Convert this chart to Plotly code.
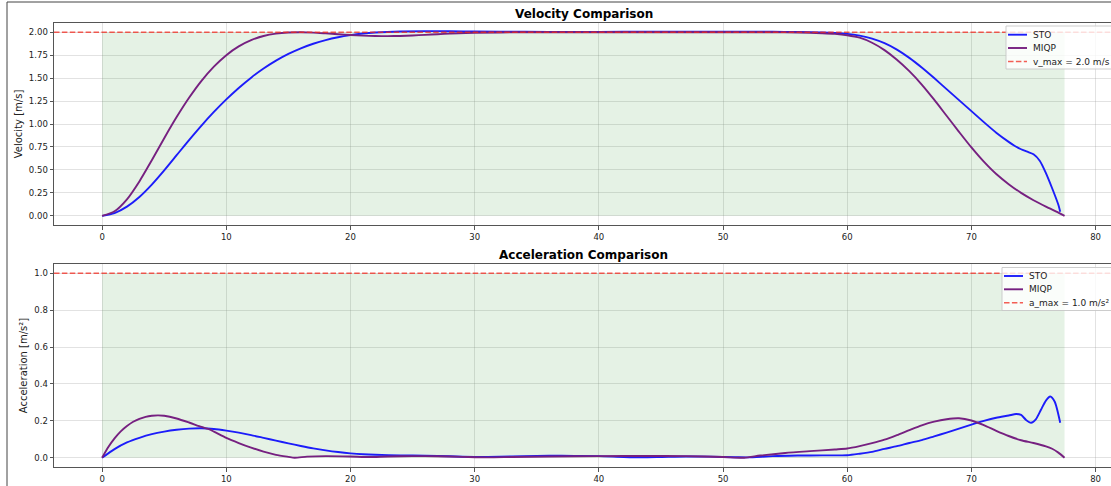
import plotly.graph_objects as go

# ---- velocity profiles -------------------------------------------------
sto_v_t = [0, 1, 2, 3, 4, 5, 6, 7, 8, 9, 10, 11, 12, 13, 14, 15, 16, 17, 18, 19,
           20, 21, 22, 24, 26, 28, 30, 34, 38, 42, 46, 50, 54, 56, 58, 59, 60, 61,
           62, 63, 64, 65, 66, 67, 68, 69, 70, 71, 72, 73, 73.5, 74, 74.5, 75,
           75.5, 76, 76.5, 77, 77.15]
sto_v = [0, 0.03, 0.1, 0.205, 0.34, 0.495, 0.66, 0.825, 0.983, 1.131, 1.268,
         1.393, 1.505, 1.604, 1.69, 1.763, 1.824, 1.874, 1.914, 1.945, 1.968,
         1.985, 1.996, 2.008, 2.012, 2.01, 2.007, 2.004, 2.002, 2.004, 2.006,
         2.006, 2.004, 2.003, 1.998, 1.992, 1.982, 1.962, 1.93, 1.88, 1.81,
         1.72, 1.615, 1.5, 1.38, 1.26, 1.14, 1.02, 0.905, 0.805, 0.76, 0.725,
         0.698, 0.67, 0.6, 0.465, 0.3, 0.12, 0.045]

miqp_v_t = [0, 1, 2, 3, 4, 5, 6, 7, 8, 9, 10, 11, 12, 13, 14, 15, 16, 17, 18,
            19, 20, 21, 22, 23, 24, 25, 26, 27, 28, 30, 34, 38, 42, 46, 50, 54,
            56, 58, 59, 60, 61, 62, 63, 64, 65, 66, 67, 68, 69, 70, 71, 72, 73,
            74, 75, 76, 77, 77.5]
miqp_v = [0, 0.05, 0.18, 0.375, 0.605, 0.845, 1.075, 1.285, 1.47, 1.625, 1.75,
          1.845, 1.913, 1.958, 1.984, 1.996, 1.999, 1.995, 1.987, 1.978, 1.969,
          1.962, 1.958, 1.957, 1.959, 1.964, 1.971, 1.978, 1.984, 1.994, 1.999,
          2.0, 2.0, 2.0, 2.0, 1.999, 1.996, 1.989, 1.982, 1.967, 1.94, 1.885,
          1.805, 1.7, 1.575, 1.43, 1.265, 1.09, 0.915, 0.745, 0.59, 0.455,
          0.345, 0.25, 0.17, 0.1, 0.035, 0]

# ---- acceleration magnitudes -------------------------------------------
sto_a_t = [0, 1, 2, 3, 4, 5, 6, 7, 8, 9, 10, 11, 12, 13, 14, 15, 16, 17, 18,
           19, 20, 21, 22, 24, 26, 28, 30, 32, 34, 36, 38, 40, 42, 43.5, 45, 47,
           49, 51, 52, 54, 56, 58, 60, 61, 62, 63, 64, 65, 66, 67, 68, 69, 70,
           71, 72, 73, 73.6, 74.0, 74.4, 74.8, 75.2, 75.6, 76.0, 76.35, 76.7,
           77.15]
sto_a = [0, 0.047, 0.083, 0.108, 0.128, 0.142, 0.152, 0.158, 0.16, 0.156,
         0.147, 0.136, 0.123, 0.108, 0.093, 0.078, 0.064, 0.051, 0.04, 0.031,
         0.024, 0.019, 0.016, 0.013, 0.011, 0.008, 0.005, 0.006, 0.009, 0.011,
         0.01, 0.009, 0.004, 0.002, 0.004, 0.007, 0.006, 0.003, 0.002, 0.009,
         0.012, 0.013, 0.014, 0.022, 0.032, 0.048, 0.063, 0.08, 0.096, 0.116,
         0.136, 0.158, 0.18, 0.2, 0.217, 0.229, 0.237, 0.232, 0.205, 0.19,
         0.21, 0.26, 0.31, 0.332, 0.305, 0.19]

miqp_a_t = [0, 0.5, 1, 1.5, 2, 2.5, 3, 3.5, 4, 4.5, 5, 6, 7, 8, 8.55, 9, 10,
            11, 12, 13, 14, 15, 15.5, 16.5, 18, 20, 21.5, 23, 25, 27, 29, 31,
            33, 36, 40, 44, 47, 50, 51.7, 53, 55, 57, 59, 60, 61, 62, 63, 64,
            65, 66, 67, 68, 69, 70, 71, 72, 73, 74, 75, 76, 76.5, 77, 77.5]
miqp_a = [0, 0.058, 0.105, 0.143, 0.172, 0.195, 0.211, 0.222, 0.228, 0.23,
          0.228, 0.213, 0.191, 0.167, 0.156, 0.142, 0.108, 0.08, 0.055, 0.033,
          0.016, 0.005, 0.0, 0.006, 0.009, 0.007, 0.004, 0.007, 0.009, 0.008,
          0.005, 0.002, 0.004, 0.007, 0.009, 0.01, 0.009, 0.004, 0.0, 0.012,
          0.026, 0.036, 0.045, 0.05, 0.063, 0.079, 0.098, 0.123, 0.15, 0.176,
          0.196, 0.209, 0.214, 0.202, 0.177, 0.146, 0.118, 0.095, 0.08, 0.062,
          0.049, 0.028, 0]

# ---- limits and ticks --------------------------------------------------
T_END = 77.5
V_MAX = 2.0
A_MAX = 1.0
x_ticks = [0, 10, 20, 30, 40, 50, 60, 70, 80]
v_ticks = [0, 0.25, 0.5, 0.75, 1.0, 1.25, 1.5, 1.75, 2.0]
a_ticks = [0, 0.2, 0.4, 0.6, 0.8, 1.0]
v_legend = ["STO", "MIQP", "v_max = 2.0 m/s"]
a_legend = ["STO", "MIQP", "a_max = 1.0 m/s²"]

W, H = 1111, 486
X_RANGE = [-3.875, 81.24]
FONT = "DejaVu Sans"
BLUE = "rgb(28,28,250)"
PURPLE = "rgb(118,32,128)"
RED = "rgba(240,40,30,0.75)"
FILL = "rgba(0,128,0,0.1)"
DASH = "5.5px,2.4px"


def py(v):
    """pixel row -> paper y"""
    return 1 - v / H


def px(v):
    """pixel column -> paper x"""
    return v / W


fig = go.Figure()


def add_panel(xa, ya, lim, s_t, s_y, m_t, m_y, lim_name):
    fig.add_trace(go.Scatter(
        x=[0, T_END, T_END, 0, 0], y=[0, 0, lim, lim, 0], fill="toself",
        fillcolor=FILL, line=dict(width=0), mode="lines", hoverinfo="skip",
        showlegend=False, xaxis=xa, yaxis=ya))
    fig.add_trace(go.Scatter(
        x=s_t, y=s_y, name="STO", mode="lines",
        line=dict(color=BLUE, width=1.9, shape="spline", smoothing=0.7),
        showlegend=False, xaxis=xa, yaxis=ya))
    fig.add_trace(go.Scatter(
        x=m_t, y=m_y, name="MIQP", mode="lines",
        line=dict(color=PURPLE, width=1.9, shape="spline", smoothing=0.7),
        showlegend=False, xaxis=xa, yaxis=ya))
    fig.add_trace(go.Scatter(
        x=X_RANGE, y=[lim, lim], name=lim_name, mode="lines",
        line=dict(color=RED, width=1.6, dash=DASH),
        showlegend=False, xaxis=xa, yaxis=ya))


add_panel("x", "y", V_MAX, sto_v_t, sto_v, miqp_v_t, miqp_v, v_legend[2])
add_panel("x2", "y2", A_MAX, sto_a_t, sto_a, miqp_a_t, miqp_a, a_legend[2])

axis_common = dict(
    showline=True, linecolor="#555", linewidth=1, ticks="outside",
    ticklen=3.5, tickwidth=1, tickcolor="#555", showgrid=True,
    gridcolor="rgba(150,150,150,0.28)", gridwidth=1, zeroline=False,
    tickfont=dict(family=FONT, size=8.5, color="#222"),
)

top_dom = [py(225), py(23)]
bot_dom = [py(467), py(264)]
x_dom = [px(54), 1]

fig.update_layout(
    width=W, height=H, margin=dict(l=0, r=0, t=0, b=0, autoexpand=False),
    paper_bgcolor="white", plot_bgcolor="white", showlegend=False,
    font=dict(family=FONT, color="#222"),
    xaxis=dict(domain=x_dom, range=X_RANGE, tickvals=x_ticks, mirror=True,
               anchor="y", **axis_common),
    yaxis=dict(domain=top_dom, range=[-0.1, 2.1], tickvals=v_ticks,
               tickformat=".2f", anchor="x",
               title=dict(text="Velocity [m/s]", standoff=4,
                          font=dict(family=FONT, size=10, color="#222")),
               **axis_common),
    xaxis2=dict(domain=x_dom, range=X_RANGE, tickvals=x_ticks, mirror=True,
                anchor="y2", **axis_common),
    yaxis2=dict(domain=bot_dom, range=[-0.05, 1.05], tickvals=a_ticks,
                tickformat=".1f", anchor="x2",
                title=dict(text="Acceleration [m/s²]", standoff=4,
                           font=dict(family=FONT, size=10, color="#222")),
                **axis_common),
)

annotations = [
    dict(text="<b>Velocity Comparison</b>", x=px(583.5), y=py(14),
         xref="paper", yref="paper", showarrow=False, xanchor="center",
         yanchor="middle", font=dict(family=FONT, size=12, color="black")),
    dict(text="<b>Acceleration Comparison</b>", x=px(583.5), y=py(255),
         xref="paper", yref="paper", showarrow=False, xanchor="center",
         yanchor="middle", font=dict(family=FONT, size=12, color="black")),
]

shapes = [
    # outer frame of the figure
    dict(type="line", xref="paper", yref="paper", x0=px(7), x1=px(7),
         y0=0, y1=py(2), line=dict(color="#444", width=1)),
    dict(type="line", xref="paper", yref="paper", x0=px(7), x1=1,
         y0=py(2), y1=py(2), line=dict(color="#444", width=1)),
]


def add_legend(left, top, rows, labels, sample_x0, sample_x1, text_x):
    shapes.append(dict(
        type="rect", xref="paper", yref="paper", x0=px(left), x1=px(W + 8),
        y0=py(top + 43), y1=py(top), layer="above",
        fillcolor="rgba(255,255,255,0.8)",
        line=dict(color="rgba(200,200,200,0.9)", width=1)))
    styles = [dict(color=BLUE, width=1.9), dict(color=PURPLE, width=1.9),
              dict(color=RED, width=1.6, dash=DASH)]
    for r, lab, st in zip(rows, labels, styles):
        shapes.append(dict(type="line", xref="paper", yref="paper",
                           x0=px(sample_x0), x1=px(sample_x1), y0=py(r),
                           y1=py(r), layer="above", line=st))
        annotations.append(dict(
            text=lab, x=px(text_x), y=py(r), xref="paper", yref="paper",
            showarrow=False, xanchor="left", yanchor="middle",
            font=dict(family=FONT, size=9, color="#222")))


add_legend(1006, 26, [34.7, 48.0, 61.5], v_legend, 1008, 1027, 1031)
add_legend(1002, 267.5, [276.0, 289.3, 302.7], a_legend, 1004, 1023, 1027)

fig.update_layout(annotations=annotations, shapes=shapes)

fig.write_html("out.html")
